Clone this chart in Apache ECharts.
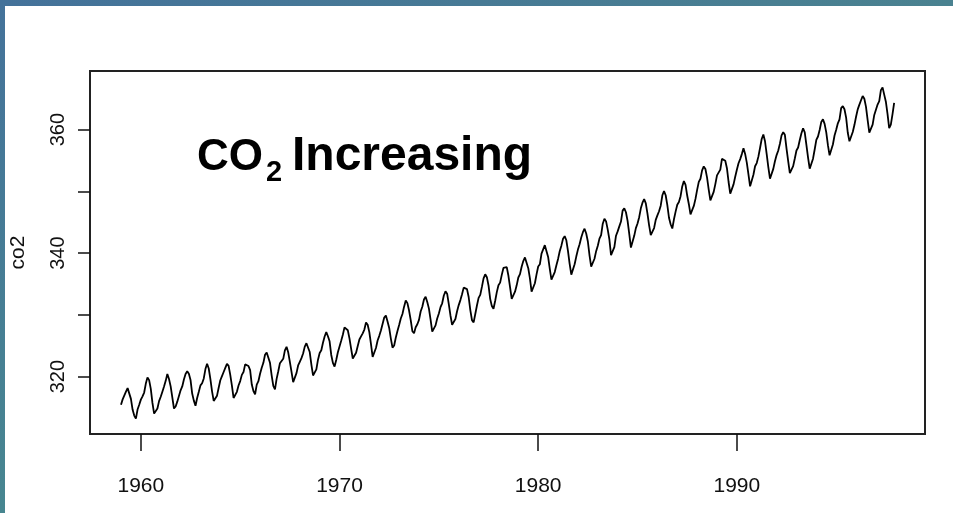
<!DOCTYPE html>
<html><head><meta charset="utf-8">
<script src="https://cdn.jsdelivr.net/npm/echarts@6/dist/echarts.min.js"></script>
<style>
html,body{margin:0;padding:0;background:#fff;}
#c{position:absolute;left:0;top:0;width:953px;height:513px;}
#topbar{position:absolute;left:0;top:0;width:953px;height:6px;background:linear-gradient(90deg,#44729a,#4a8290);}
#leftbar{position:absolute;left:0;top:0;width:5px;height:513px;background:linear-gradient(180deg,#44729a,#478690);}
</style></head>
<body>
<div id="c"></div><div id="topbar"></div><div id="leftbar"></div>
<script>
const startYear = 1959;
const co2 = [
315.42,316.31,316.50,317.56,318.13,318.00,316.39,314.65,313.68,313.18,314.66,315.43,
316.27,316.81,317.42,318.87,319.87,319.43,318.01,315.74,314.00,313.68,314.84,316.03,
316.73,317.54,318.38,319.31,320.42,319.61,318.42,316.63,314.83,315.16,315.94,316.85,
317.78,318.40,319.53,320.42,320.85,320.45,319.45,317.25,316.11,315.27,316.53,317.53,
318.58,318.92,319.70,321.22,322.08,321.31,319.58,317.61,316.05,315.83,316.91,318.20,
319.41,320.07,320.74,321.40,322.06,321.73,320.27,318.54,316.54,316.71,317.53,318.55,
319.27,320.28,320.73,321.97,322.00,321.71,321.05,318.71,317.66,317.14,318.70,319.25,
320.46,321.43,322.23,323.54,323.91,323.59,322.24,320.20,318.48,317.94,319.63,320.87,
322.17,322.34,322.88,324.25,324.83,323.93,322.38,320.76,319.10,319.24,320.56,321.80,
322.40,322.99,323.73,324.86,325.40,325.20,323.98,321.95,320.18,320.09,321.16,322.74,
323.83,324.26,325.47,326.50,327.21,326.54,325.72,323.50,322.22,321.62,322.69,323.95,
324.89,325.82,326.77,327.97,327.91,327.50,326.18,324.53,322.93,322.90,323.85,324.96,
326.01,326.51,327.01,327.62,328.76,328.40,327.20,325.27,323.20,323.40,324.63,325.85,
326.60,327.47,327.58,329.56,329.90,328.92,327.88,326.16,324.68,325.04,326.34,327.39,
328.37,329.40,330.14,331.33,332.31,331.90,330.70,329.15,327.35,327.02,327.99,328.48,
329.18,330.55,331.32,332.48,332.92,332.08,331.01,329.23,327.27,327.21,328.29,329.41,
330.23,331.25,331.87,333.14,333.80,333.43,331.73,329.90,328.40,328.17,329.32,330.59,
331.58,332.39,333.33,334.41,334.71,334.17,332.89,330.77,329.14,328.78,330.14,331.52,
332.75,333.24,334.53,335.90,336.57,336.10,334.76,332.59,331.42,330.98,332.24,333.68,
334.80,335.22,336.47,337.59,337.84,337.72,336.37,334.51,332.60,332.38,333.75,334.78,
336.05,336.59,337.79,338.71,339.30,339.12,337.56,335.92,333.75,333.70,335.12,336.56,
337.84,338.19,339.91,340.60,341.29,341.00,339.39,337.43,335.72,335.84,336.93,338.04,
339.06,340.30,341.21,342.33,342.74,342.08,340.32,338.26,336.52,336.68,338.19,339.44,
340.57,341.44,342.53,343.39,343.96,343.18,341.88,339.65,337.81,337.69,339.09,340.32,
341.20,342.35,342.93,344.77,345.58,345.14,343.81,342.21,339.69,339.82,340.98,342.82,
343.52,344.33,345.11,346.88,347.25,346.62,345.22,343.11,340.90,341.18,342.80,344.04,
344.79,345.82,347.25,348.17,348.74,348.07,346.38,344.51,342.92,342.62,344.06,345.38,
346.11,346.78,347.68,349.37,350.03,349.37,347.76,345.73,344.68,343.99,345.48,346.72,
347.84,348.29,349.23,350.80,351.66,351.07,349.33,347.92,346.27,346.18,347.64,348.78,
350.25,351.54,352.05,353.41,354.04,353.62,352.22,350.27,348.55,348.72,349.91,351.18,
352.60,352.92,353.53,355.26,355.52,354.97,353.75,351.52,349.64,349.83,351.14,352.37,
353.50,354.55,355.23,356.04,357.00,356.07,354.67,352.76,350.82,351.04,352.69,354.07,
354.59,355.63,357.03,358.48,359.22,358.12,356.06,353.92,352.05,352.11,353.64,354.89,
355.88,356.63,357.72,359.07,359.58,359.17,356.94,354.92,352.94,353.23,354.09,355.33,
356.63,357.10,358.32,359.41,360.23,359.55,357.53,355.48,353.67,353.95,355.30,356.78,
358.34,358.89,359.95,361.25,361.67,360.94,359.55,357.49,355.84,356.00,357.59,359.05,
359.98,361.03,361.66,363.48,363.82,363.30,361.94,359.50,358.11,357.80,359.61,360.74,
362.09,363.29,364.06,364.76,365.45,365.01,363.70,361.54,359.51,359.65,360.80,362.38,
363.23,364.06,364.61,366.40,366.84,365.68,364.52,362.57,360.24,360.83,362.49,364.34
];
const xTicks = [1960, 1970, 1980, 1990];
const yTicks = [320, 330, 340, 350, 360];
const yLabels = [320, 340, 360];
const yName = 'co2';
const annotation = ['CO', '2', 'Increasing'];

const seriesData = co2.map((v, i) => [startYear + i / 12, v]);
const font = "'Liberation Sans',Arial,sans-serif";

const chart = echarts.init(document.getElementById('c'), null, {renderer: 'canvas'});
chart.setOption({
  animation: false,
  backgroundColor: '#ffffff',
  grid: {left: 90, top: 71, right: 28, bottom: 79, show: true, borderColor: '#222', borderWidth: 2, backgroundColor: 'transparent', containLabel: false, outerBoundsMode: 'none'},
  xAxis: {
    type: 'value', min: 1957.44, max: 1999.47,
    splitLine: {show: false},
    axisLine: {show: false},
    axisTick: {show: true, inside: false, length: 17, lineStyle: {color: '#111', width: 1.5}, customValues: xTicks},
    axisLabel: {show: true, margin: 42, color: '#111', fontSize: 21, fontFamily: font, customValues: xTicks, formatter: v => String(v)}
  },
  yAxis: {
    type: 'value', min: 310.7, max: 369.5,
    name: yName, nameLocation: 'middle', nameRotate: 90, nameGap: 61,
    nameTextStyle: {color: '#111', fontSize: 21, fontFamily: font},
    splitLine: {show: false},
    axisLine: {show: false},
    axisTick: {show: true, inside: false, length: 12, lineStyle: {color: '#111', width: 1.5}, customValues: yTicks},
    axisLabel: {show: true, rotate: 90, margin: 22, color: '#111', fontSize: 20, fontFamily: font, customValues: yLabels, formatter: v => String(v)}
  },
  series: [{
    type: 'line', data: seriesData, showSymbol: false, symbol: 'none',
    lineStyle: {color: '#000', width: 1.8}, silent: true
  }],
  graphic: [
    {type: 'text', x: 197, y: 158, style: {text: annotation[0], font: "bold 44px " + font, fill: '#000', verticalAlign: 'middle', align: 'left'}},
    {type: 'text', x: 266, y: 173, style: {text: annotation[1], font: "bold 29px " + font, fill: '#000', verticalAlign: 'middle', align: 'left'}},
    {type: 'text', x: 292, y: 157, style: {text: annotation[2], font: "bold 48px " + font, fill: '#000', verticalAlign: 'middle', align: 'left'}}
  ]
});
</script>
</body></html>
